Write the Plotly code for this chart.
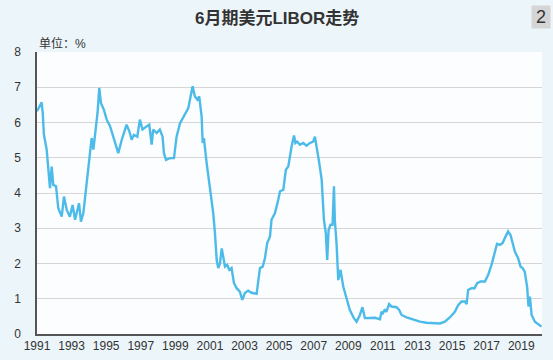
import plotly.graph_objects as go

years = [1991.0, 1991.17, 1991.27, 1991.33, 1991.4, 1991.56, 1991.65, 1991.75, 1991.85, 1991.94,
         1992.1, 1992.23, 1992.43, 1992.56, 1992.72, 1992.9, 1993.06, 1993.2, 1993.43, 1993.54,
         1993.68, 1993.83, 1993.97, 1994.1, 1994.16, 1994.26, 1994.41, 1994.5, 1994.6, 1994.7,
         1994.87, 1995.03, 1995.22, 1995.4, 1995.7, 1995.9, 1996.18, 1996.34, 1996.47, 1996.6,
         1996.8, 1996.95, 1997.1, 1997.34, 1997.49, 1997.63, 1997.72, 1997.92, 1998.1, 1998.26,
         1998.34, 1998.46, 1998.69, 1998.92, 1999.07, 1999.27, 1999.55, 1999.75, 1999.88, 2000.0,
         2000.13, 2000.27, 2000.38, 2000.52, 2000.58, 2000.65, 2000.81, 2001.0, 2001.19, 2001.29,
         2001.39, 2001.48, 2001.58, 2001.68, 2001.77, 2001.87, 2002.0, 2002.12, 2002.25, 2002.39,
         2002.54, 2002.73, 2002.87, 2003.02, 2003.21, 2003.41, 2003.7, 2003.79, 2003.89, 2004.05,
         2004.18, 2004.31, 2004.47, 2004.56, 2004.76, 2004.95, 2005.05, 2005.24, 2005.39, 2005.53,
         2005.62, 2005.72, 2005.86, 2005.94, 2006.04, 2006.2, 2006.39, 2006.59, 2006.78, 2006.97,
         2007.07, 2007.17, 2007.32, 2007.46, 2007.51, 2007.59, 2007.7, 2007.78, 2007.86, 2007.97,
         2008.09, 2008.17, 2008.22, 2008.32, 2008.42, 2008.55, 2008.71, 2008.9, 2009.09, 2009.32,
         2009.48, 2009.67, 2009.82, 2009.96, 2010.25, 2010.54, 2010.83, 2010.92, 2011.0, 2011.12,
         2011.2, 2011.36, 2011.5, 2011.65, 2011.79, 2011.94, 2012.08, 2012.37, 2012.75, 2013.14,
         2013.52, 2013.91, 2014.3, 2014.58, 2014.87, 2015.16, 2015.35, 2015.55, 2015.74, 2015.84,
         2015.93, 2016.12, 2016.3, 2016.45, 2016.65, 2016.9, 2017.09, 2017.28, 2017.47, 2017.6,
         2017.76, 2017.92, 2018.05, 2018.24, 2018.38, 2018.5, 2018.63, 2018.82, 2018.96, 2019.08,
         2019.2, 2019.34, 2019.42, 2019.5, 2019.54, 2019.6, 2019.79, 2020.08, 2020.17]
rates = [6.32, 6.46, 6.57, 6.28, 5.65, 5.23, 4.66, 4.14, 4.75, 4.23,
         4.19, 3.57, 3.33, 3.9, 3.52, 3.33, 3.66, 3.24, 3.71, 3.19,
         3.43, 4.09, 4.85, 5.32, 5.56, 5.23, 5.8, 6.27, 6.98, 6.55,
         6.36, 6.08, 5.9, 5.6, 5.13, 5.51, 5.94, 5.75, 5.51, 5.65,
         5.6, 6.08, 5.8, 5.89, 5.94, 5.37, 5.8, 5.7, 5.8, 5.6,
         5.13, 4.94, 4.99, 4.99, 5.6, 5.98, 6.22, 6.41, 6.74, 7.03,
         6.74, 6.65, 6.74, 6.17, 5.42, 5.56, 4.85, 4.19, 3.43, 2.86,
         2.1, 1.87, 2.0, 2.43, 2.2, 1.91, 1.96, 1.82, 1.87, 1.44,
         1.3, 1.2, 0.97, 1.16, 1.23, 1.17, 1.14, 1.44, 1.87, 1.91,
         2.15, 2.58, 2.76, 3.24, 3.43, 3.81, 4.05, 4.09, 4.66, 4.75,
         5.04, 5.32, 5.63, 5.42, 5.46, 5.37, 5.42, 5.34, 5.42, 5.46,
         5.6, 5.32, 4.85, 4.38, 3.9, 3.24, 2.86, 2.1, 2.95, 3.1,
         3.1, 4.19, 3.24, 2.58, 1.53, 1.82, 1.34, 1.01, 0.68, 0.45,
         0.35, 0.54, 0.76, 0.45, 0.45, 0.46, 0.42, 0.63, 0.59, 0.7,
         0.63, 0.85, 0.78, 0.78, 0.76, 0.68, 0.54, 0.47, 0.4, 0.35,
         0.32, 0.3, 0.3, 0.35, 0.47, 0.63, 0.82, 0.92, 0.92, 0.85,
         1.25, 1.3, 1.3, 1.44, 1.49, 1.49, 1.68, 1.96, 2.34, 2.56,
         2.53, 2.58, 2.72, 2.91, 2.81, 2.58, 2.34, 2.15, 1.91, 1.87,
         1.77, 1.34, 0.78, 1.06, 0.78, 0.54, 0.35, 0.23, 0.21]

tick_years = [1991, 1993, 1995, 1997, 1999, 2001, 2003, 2005, 2007, 2009, 2011, 2013, 2015, 2017, 2019]
tick_labels = [str(y) for y in tick_years]
y_ticks = [0, 1, 2, 3, 4, 5, 6, 7, 8]

title_text = "6月期美元LIBOR走势"
unit_text = "单位：%"
badge_text = "2"

FONT = "Liberation Sans, Noto Sans CJK SC, sans-serif"

W, H = 553, 360
L, R, T, B = 37, 11, 52, 26
PW, PH = W - L - R, H - T - B


def px_x(px):
    return (px - L) / PW


def px_y(py):
    return (H - B - py) / PH


fig = go.Figure()
fig.add_trace(go.Scatter(
    x=years, y=rates, mode="lines",
    line=dict(color="#4dbbe9", width=2.4),
    hoverinfo="skip", showlegend=False,
))

fig.update_layout(
    width=W, height=H,
    margin=dict(l=L, r=R, t=T, b=B, autoexpand=False),
    paper_bgcolor="#ecf5f9",
    plot_bgcolor="#fcfdfe",
    font=dict(family=FONT, size=12, color="#333333"),
    xaxis=dict(
        range=[1991, 2020.2], tickmode="array", tickvals=tick_years, ticktext=tick_labels,
        showgrid=False, zeroline=False, showline=True, linecolor="#555555", linewidth=1.5,
        ticks="", tickfont=dict(size=12, color="#333333"),
    ),
    yaxis=dict(
        range=[0, 8], tickmode="array", tickvals=y_ticks,
        showgrid=True, gridcolor="#d6d6d6", gridwidth=1.3, zeroline=False,
        showline=True, linecolor="#555555", linewidth=1.5,
        ticks="", ticklabelstandoff=12, tickfont=dict(size=12, color="#333333"),
    ),
    annotations=[
        dict(text="<b>" + title_text + "</b>", x=px_x(W / 2), y=px_y(18), xref="paper", yref="paper",
             xanchor="center", yanchor="middle",
             showarrow=False, font=dict(size=17, color="#333333")),
        dict(text=unit_text, x=px_x(37), y=px_y(43), xref="paper", yref="paper",
             showarrow=False, xanchor="left", yanchor="middle",
             font=dict(size=12, color="#333333")),
        dict(text=badge_text, x=px_x(541), y=px_y(17), xref="paper", yref="paper",
             showarrow=False, xanchor="center", yanchor="middle",
             bgcolor="#d5d5d5", width=16, height=20, font=dict(size=18, color="#333333")),
    ],
)

fig.write_html("out.html", config={"displayModeBar": False},
               post_script="document.body.style.margin='0';")
